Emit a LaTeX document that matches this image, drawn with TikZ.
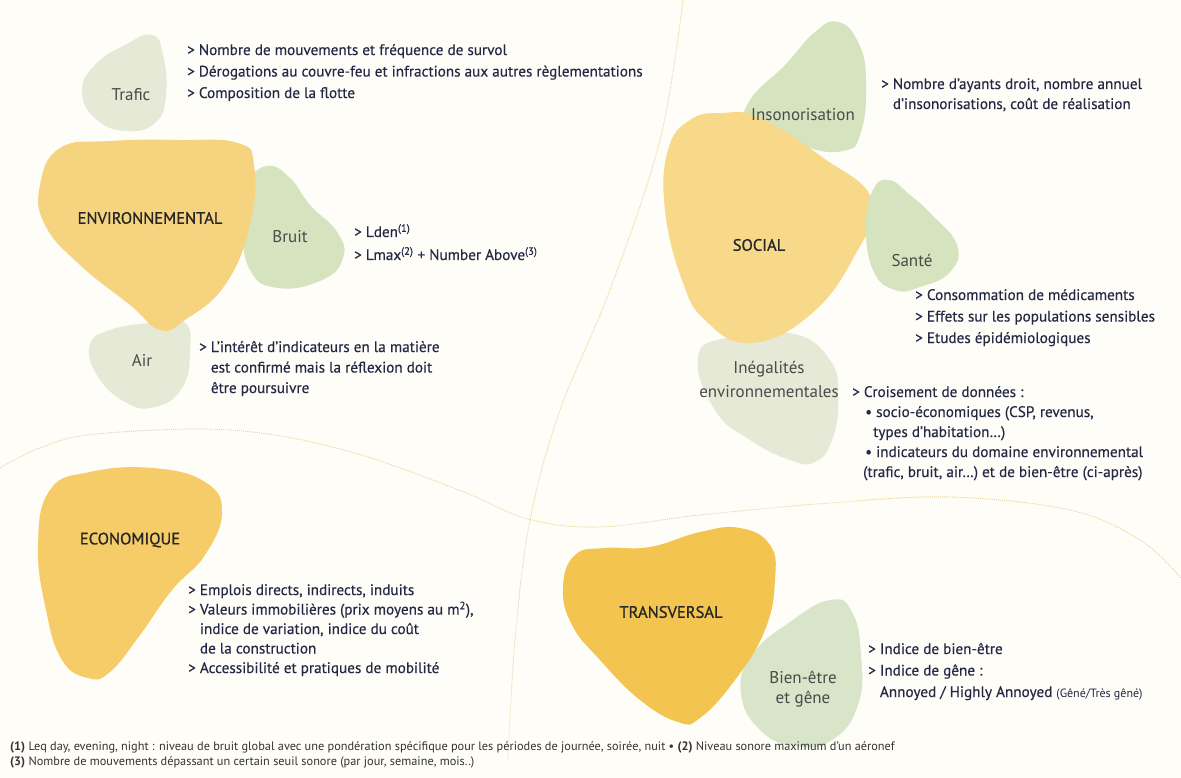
\documentclass[tikz,border=0pt]{standalone}
\usepackage{fontspec}
\setmainfont{PT Sans}
\newfontfamily\txtfont{PT Sans}[FakeBold=0.35]
\newfontfamily\lblfont{PT Sans}[FakeBold=0.9]
\definecolor{bgc}{HTML}{FEFDF8}
\definecolor{yelA}{HTML}{F6D47F}
\definecolor{yelS}{HTML}{F8D889}
\definecolor{yelE}{HTML}{F5CC68}
\definecolor{yelT}{HTML}{F3C550}
\definecolor{grn}{HTML}{D5E3BF}
\definecolor{grnB}{HTML}{D8E5C8}
\definecolor{pale}{HTML}{E5E9D5}
\definecolor{navy}{HTML}{232845}
\definecolor{lblgray}{HTML}{4A4A4A}
\definecolor{divc}{HTML}{E6D49A}
\tikzset{
  divider/.style={divc, line width=0.9pt, dash pattern=on 0.9pt off 1.1pt},
  mainlbl/.style={inner sep=0pt, text=black!85, font=\lblfont\fontsize{16.5}{18}\selectfont},
  sublbl/.style={inner sep=0pt, text=lblgray, font=\fontsize{17}{24}\selectfont, align=center},
  txt/.style={inner sep=0pt, anchor=base west, align=left, text=navy},
  foot/.style={inner sep=0pt, anchor=base west, align=left, text=black!80, font=\fontsize{12.3}{15}\selectfont}
}
\begin{document}
\begin{tikzpicture}[x=1pt,y=-1pt]
\useasboundingbox[fill=bgc] (0,0) rectangle (1181,778);

% dividers
\draw[divider] plot[smooth, tension=0.6] coordinates {(0,468) (40,448) (96,434) (230,430) (344,450) (459,490) (528,519) (600,527) (700,515) (830,503) (950,497) (1070,510) (1140,540) (1181,578)};
\draw[divider] plot[smooth, tension=0.6] coordinates {(683,0) (660,140) (610,290) (560,410) (530,520) (515,640) (508,760)};

% small blobs (behind)
\fill[pale] plot[smooth cycle, tension=0.8] coordinates {(152,35) (163,55) (166,95) (156,122) (128,131) (97,120) (82,92) (95,65) (125,45)};
\fill[grn] plot[smooth cycle, tension=0.8] coordinates {(267,166) (290,178) (310,205) (337,232) (343,258) (322,280) (278,288) (250,270) (243,225) (248,185)};
\fill[pale] plot[smooth cycle, tension=0.8] coordinates {(184,322) (190,352) (182,388) (155,407) (125,402) (97,375) (90,345) (110,330) (150,323)};
\fill[grn] plot[smooth cycle, tension=0.8] coordinates {(838,22) (858,42) (866,80) (861,132) (843,151) (800,145) (752,122) (750,100) (785,65) (815,32)};
\fill[pale] plot[smooth cycle, tension=0.8] coordinates {(698,358) (725,338) (790,333) (830,360) (838,400) (832,440) (815,462) (790,460) (750,440) (715,410)};
\fill[grnB] plot[smooth cycle, tension=0.8] coordinates {(830,600) (852,612) (861,655) (858,705) (832,740) (795,746) (760,730) (741,693) (752,655) (790,622)};

% main blobs
\fill[yelA] plot[smooth cycle, tension=0.75] coordinates {(60,148) (110,141) (180,140) (238,143) (254,165) (250,225) (225,285) (185,320) (160,330) (130,305) (80,265) (45,225) (40,185)};
\fill[yelS] plot[smooth cycle, tension=0.75] coordinates {(722,113) (760,118) (822,157) (872,200) (855,255) (810,315) (750,343) (705,320) (682,280) (665,210) (668,150) (690,120)};
\fill[yelE] plot[smooth cycle, tension=0.75] coordinates {(153,468) (205,482) (222,512) (205,555) (172,590) (140,635) (110,672) (88,678) (62,660) (46,610) (38,545) (50,490) (90,472)};
\fill[yelT] plot[smooth cycle, tension=0.75] coordinates {(563,587) (575,555) (605,548) (650,547) (700,532) (740,528) (770,545) (775,580) (765,630) (735,680) (700,718) (678,722) (640,700) (600,660) (572,625)};
% Santé on top of SOCIAL
\fill[grn] plot[smooth cycle, tension=0.8] coordinates {(889,180) (910,195) (932,215) (957,245) (950,272) (920,287) (895,290) (873,270) (866,225) (873,190)};

% labels
\node[sublbl] (trafic) at (131,95) {Trafic};
\node[mainlbl] (env) at (150,218) {ENVIRONNEMENTAL};
\node[sublbl] (bruit) at (290,237) {Bruit};
\node[sublbl] (air) at (142,360) {Air};
\node[sublbl] (inso) at (803,115) {Insonorisation};
\node[mainlbl] (social) at (759,245) {SOCIAL};
\node[sublbl] (sante) at (912,260) {Santé};
\node[sublbl, anchor=base] (inega) at (769,397) {Inégalités\\environnementales};
\node[mainlbl] (eco) at (130,540) {ECONOMIQUE};
\node[mainlbl] (trans) at (671,612) {TRANSVERSAL};
\node[sublbl, font=\fontsize{17}{20}\selectfont, anchor=base] (bien) at (803,703) {Bien-être\\et gêne};

% texts (anchor = baseline of the last line)
\node[txt, font=\txtfont\fontsize{15.2}{21.5}\selectfont] (ttrafic) at (187,98) {> Nombre de mouvements et fréquence de survol\\> Dérogations au couvre-feu et infractions aux autres règlementations\\> Composition de la flotte};
\node[txt, font=\txtfont\fontsize{15.2}{23}\selectfont] (tbruit) at (354,260) {> Lden\textsuperscript{(1)}\\> Lmax\textsuperscript{(2)} + Number Above\textsuperscript{(3)}};
\node[txt, font=\txtfont\fontsize{15.2}{20.5}\selectfont] (tair) at (199,393) {> L’intérêt d’indicateurs en la matière\\\phantom{> }est confirmé mais la réflexion doit\\\phantom{> }être poursuivre};
\node[txt, font=\txtfont\fontsize{15.2}{20}\selectfont] (tinso) at (881,109) {> Nombre d’ayants droit, nombre annuel\\\phantom{> }d’insonorisations, coût de réalisation};
\node[txt, font=\txtfont\fontsize{15.2}{21.5}\selectfont] (tsante) at (915,343) {> Consommation de médicaments\\> Effets sur les populations sensibles\\> Etudes épidémiologiques};
\node[txt, font=\txtfont\fontsize{15.2}{20}\selectfont] (tinega) at (852,477) {> Croisement de données :\\\hspace*{13pt}• socio-économiques (CSP, revenus,\\\hspace*{21pt}types d’habitation…)\\\hspace*{13pt}• indicateurs du domaine environnemental\\\hspace*{11pt}(trafic, bruit, air…) et de bien-être (ci-après)};
\node[txt, font=\txtfont\fontsize{15.2}{19.5}\selectfont] (teco) at (188,673) {> Emplois directs, indirects, induits\\> Valeurs immobilières (prix moyens au m\textsuperscript{2}),\\\phantom{> }indice de variation, indice du coût\\\phantom{> }de la construction\\> Accessibilité et pratiques de mobilité};
\node[txt, font=\txtfont\fontsize{15.2}{21.5}\selectfont] (tbien) at (868,697) {> Indice de bien-être\\> Indice de gêne :\\\phantom{> }Annoyed / Highly Annoyed {\normalfont\fontsize{12}{12}\selectfont (Gêné/Très gêné)}};

% footnotes
\node[foot] (fn) at (10,765) {\textbf{(1)} Leq day, evening, night : niveau de bruit global avec une pondération spécifique pour les périodes de journée, soirée, nuit • \textbf{(2)} Niveau sonore maximum d’un aéronef\\\textbf{(3)} Nombre de mouvements dépassant un certain seuil sonore (par jour, semaine, mois..)};
\end{tikzpicture}
\end{document}
